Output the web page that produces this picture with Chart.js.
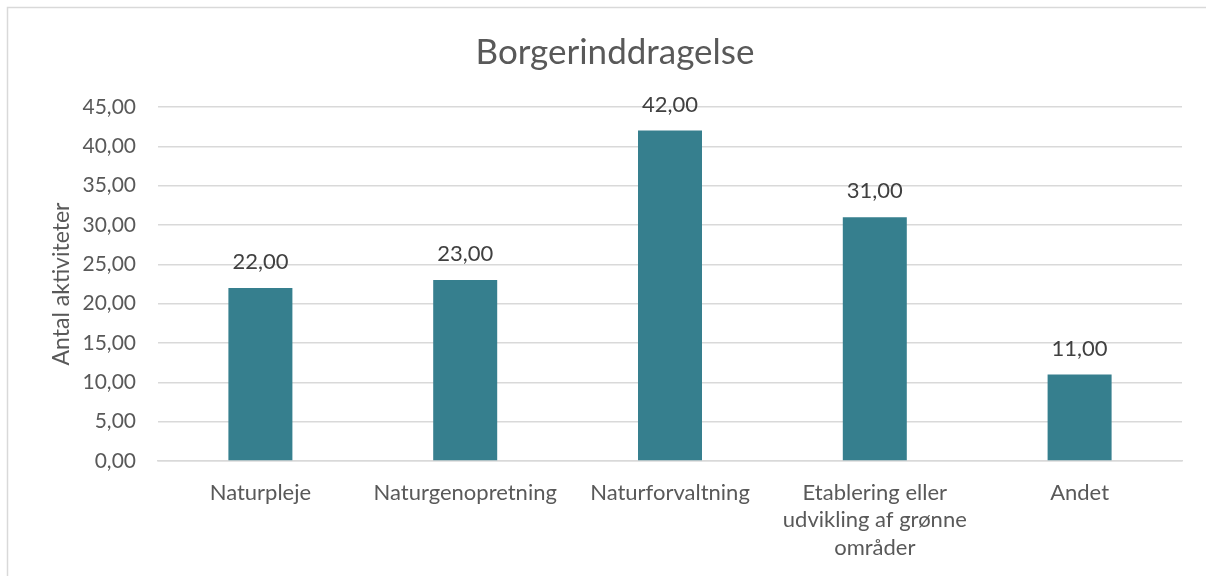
<!DOCTYPE html>
<html>
<head>
<meta charset="utf-8">
<script src="https://cdn.jsdelivr.net/npm/chart.js@4"></script>
<style>
  html, body { margin: 0; padding: 0; background: #fff; }
  #wrap { width: 1206px; height: 576px; position: relative; }
</style>
</head>
<body>
<div id="wrap"><canvas id="myChart" width="1206" height="576"></canvas></div>
<script>
const categories = [
  'Naturpleje',
  'Naturgenopretning',
  'Naturforvaltning',
  ['Etablering eller', 'udvikling af grønne', 'områder'],
  'Andet'
]
const values = [22, 23, 42, 31, 11]
const yTicks = [0, 5, 10, 15, 20, 25, 30, 35, 40, 45]

const FONT = 'Lato, "Open Sans", sans-serif'
const fmt = v => v.toFixed(2).replace('.', ',')

const frame = {
  id: 'frame',
  beforeDraw: chart => {
    const ctx = chart.ctx
    ctx.save()
    ctx.fillStyle = 'white'
    ctx.fillRect(0, 0, chart.width, chart.height)
    ctx.strokeStyle = '#d9d9d9'
    ctx.lineWidth = 1.5
    ctx.beginPath()
    ctx.moveTo(7.5, chart.height)
    ctx.lineTo(7.5, 7.5)
    ctx.lineTo(chart.width, 7.5)
    ctx.stroke()
    ctx.restore()
  }
}

const barLabels = {
  id: 'barLabels',
  afterDatasetsDraw: chart => {
    const ctx = chart.ctx
    const meta = chart.getDatasetMeta(0)
    ctx.save()
    ctx.font = '22px ' + FONT
    ctx.fillStyle = '#404040'
    ctx.textAlign = 'center'
    ctx.textBaseline = 'middle'
    meta.data.forEach((bar, i) => {
      ctx.fillText(fmt(values[i]), bar.x, bar.y - 26)
    })
    ctx.restore()
  }
}

const ctx = document.getElementById('myChart').getContext('2d')
new Chart(ctx, {
  type: 'bar',
  data: {
    labels: categories,
    datasets: [{
      data: values,
      backgroundColor: '#367f8e',
      categoryPercentage: 1,
      barPercentage: 0.3125
    }]
  },
  options: {
    responsive: false,
    animation: false,
    layout: { padding: { left: 48, right: 24, top: 0, bottom: 0 } },
    plugins: {
      legend: { display: false },
      tooltip: { enabled: false },
      title: {
        display: true,
        text: 'Borgerinddragelse',
        color: '#595959',
        font: { family: FONT, size: 35, weight: 'normal', lineHeight: 1.2 },
        padding: { top: 32, bottom: 33 }
      }
    },
    scales: {
      x: {
        grid: { display: false, drawTicks: false },
        border: { color: '#d9d9d9', width: 1.5 },
        ticks: {
          color: '#595959',
          font: { family: FONT, size: 22, lineHeight: 1.25 },
          padding: 18,
          maxRotation: 0,
          autoSkip: false
        },
        afterFit: scale => { scale.height = 115 }
      },
      y: {
        min: 0,
        max: 45,
        afterBuildTicks: scale => { scale.ticks = yTicks.map(v => ({ value: v })) },
        grid: { color: '#d9d9d9', lineWidth: 1.5, drawTicks: false },
        border: { display: false },
        ticks: {
          color: '#595959',
          font: { family: FONT, size: 21 },
          padding: 22,
          callback: v => fmt(v)
        },
        title: {
          display: true,
          text: 'Antal aktiviteter',
          color: '#595959',
          font: { family: FONT, size: 23 },
          padding: { top: 0, bottom: 0 }
        },
        afterFit: scale => { scale.width = 110 }
      }
    }
  },
  plugins: [frame, barLabels]
})
</script>
</body>
</html>
